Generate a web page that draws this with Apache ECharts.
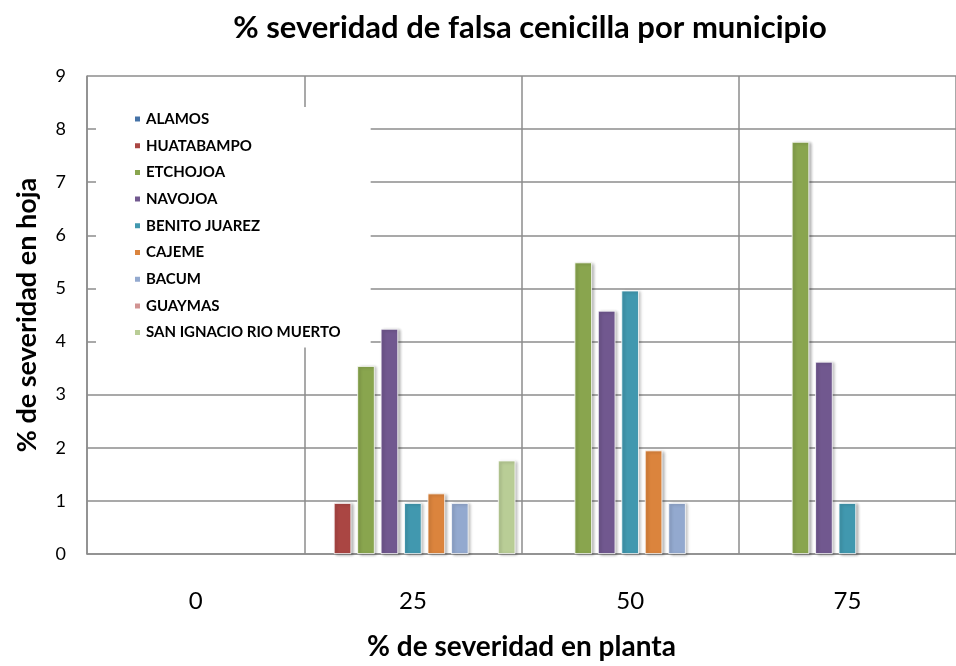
<!DOCTYPE html>
<html><head><meta charset="utf-8">
<script src="https://cdn.jsdelivr.net/npm/echarts@6/dist/echarts.min.js"></script>
<style>html,body{margin:0;padding:0;background:#fff}#c{width:956px;height:666px}</style>
</head><body><div id="c"></div>
<script>
const categories = ['0', '25', '50', '75'];
const seriesNames = ['ALAMOS','HUATABAMPO','ETCHOJOA','NAVOJOA','BENITO JUAREZ','CAJEME','BACUM','GUAYMAS','SAN IGNACIO RIO MUERTO'];
const alamos      = [null, null, null, null];
const huatabampo  = [null, 0.96, null, null];
const etchojoa    = [null, 3.54, 5.49, 7.76];
const navojoa     = [null, 4.24, 4.58, 3.62];
const benito      = [null, 0.96, 4.96, 0.96];
const cajeme      = [null, 1.14, 1.95, null];
const bacum       = [null, 0.96, 0.96, null];
const guaymas     = [null, null, null, null];
const sanIgnacio  = [null, 1.76, null, null];
const allValues = [alamos, huatabampo, etchojoa, navojoa, benito, cajeme, bacum, guaymas, sanIgnacio];
const colors = ['#4572A7','#AA4643','#89A54E','#71588F','#4198AF','#DB843D','#93A9CF','#D19392','#B9CD96'];
const yTicks = [0,1,2,3,4,5,6,7,8,9];

const FONT = 'Lato';
const chart = echarts.init(document.getElementById('c'));
chart.setOption({
  animation: false,
  color: colors,
  title: {
    text: '% severidad de falsa cenicilla por municipio',
    left: 525, top: 7, textAlign: 'center',
    textStyle: {fontFamily: FONT, fontWeight: 'bold', fontSize: 31, color: '#000'}
  },
  legend: {
    orient: 'vertical', left: 96, top: 107,
    backgroundColor: '#fff',
    padding: [4, 30, 7, 37],
    itemWidth: 7, itemHeight: 7, itemGap: 10.7,
    icon: 'rect',
    textStyle: {fontFamily: FONT, fontWeight: 'bold', fontSize: 15, color: '#000', lineHeight: 16},
    data: seriesNames
  },
  grid: {left: 87, right: -7, top: 76, bottom: 110, containLabel: false},
  xAxis: {
    type: 'category', data: categories,
    name: '% de severidad en planta', nameLocation: 'middle', nameGap: 79,
    nameTextStyle: {fontFamily: FONT, fontWeight: 'bold', fontSize: 28, color: '#000'},
    axisLine: {lineStyle: {color: '#8c8c8c', width: 1.5}},
    axisTick: {show: false},
    axisLabel: {fontFamily: FONT, fontSize: 24, color: '#000', margin: 35},
    splitLine: {show: true, lineStyle: {color: '#8c8c8c', width: 1.5}}
  },
  yAxis: {
    type: 'value', min: 0, max: 9, interval: 1,
    name: '% de severidad en hoja', nameLocation: 'middle', nameGap: 46, nameRotate: 90,
    nameTextStyle: {fontFamily: FONT, fontWeight: 'bold', fontSize: 27, color: '#000'},
    axisLine: {show: true, lineStyle: {color: '#8c8c8c', width: 1.5}},
    axisTick: {show: false},
    axisLabel: {fontFamily: FONT, fontSize: 18, color: '#000', margin: 21,
      formatter: v => yTicks.includes(v) ? String(v) : ''},
    splitLine: {show: true, lineStyle: {color: '#8c8c8c', width: 1.5}}
  },
  series: seriesNames.map((n, i) => ({
    name: n, type: 'bar', data: allValues[i],
    barWidth: 17.5, barGap: '34%',
    itemStyle: {color: colors[i], borderColor: '#fff', borderWidth: 0.8,
      shadowColor: 'rgba(0,0,0,0.3)', shadowBlur: 3, shadowOffsetX: 2, shadowOffsetY: 1}
  }))
});
</script></body></html>
